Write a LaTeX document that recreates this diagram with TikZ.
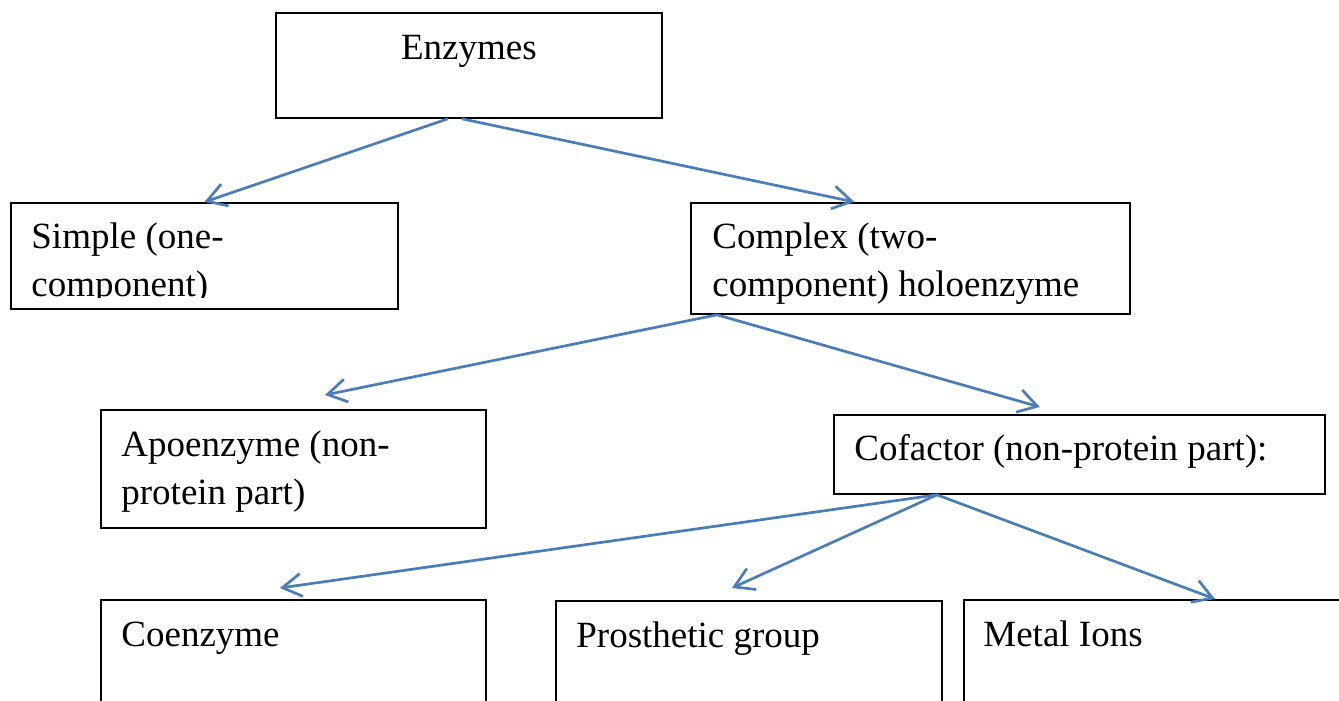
\documentclass[tikz,border=0pt]{standalone}
\usepackage{fontspec}
\setmainfont{Liberation Serif}
\usetikzlibrary{arrows.meta}
\definecolor{linkblue}{RGB}{74,126,187}

\begin{document}
\begin{tikzpicture}[x=0.5pt,y=-0.5pt]
\tikzstyle{box}=[draw=black,line width=0.9pt,rectangle,anchor=north west,inner sep=0pt]
\tikzstyle{txt}=[inner sep=0pt,anchor=base west,font=\fontsize{18.5pt}{24pt}\selectfont]
\tikzstyle{link}=[draw=linkblue,line width=1.35pt,-{Straight Barb[length=9.5pt,width=11.5pt]}]
\path [use as bounding box,clip] (0,0) rectangle (1339,701);

\node [box,minimum width=193pt,minimum height=52.5pt] at (275,12) (enz) {};
\node [box,minimum width=193.5pt,minimum height=53pt] at (10,202) (simple) {};
\node [box,minimum width=219.5pt,minimum height=55.5pt] at (690,202) (complex) {};
\node [box,minimum width=192.5pt,minimum height=59pt] at (100,409) (apo) {};
\node [box,minimum width=245.5pt,minimum height=39.5pt] at (833,414) (cof) {};
\node [box,minimum width=192.5pt,minimum height=65pt] at (100,599) (coe) {};
\node [box,minimum width=193pt,minimum height=65pt] at (555,600) (pros) {};
\node [box,minimum width=200pt,minimum height=65pt] at (963,599) (metal) {};

\node [txt,anchor=base] at ([shift={(0,48)}]enz.north) (enz-txt) {Enzymes};
\begin{scope}
\clip (simple.north west) rectangle ([yshift=6pt]simple.south east);
\node [txt] at ([shift={(21,47)}]simple.north west) (simple-txt) {\parbox[t]{190pt}{\raggedright Simple (one-\\component)}};
\end{scope}
\node [txt] at ([shift={(22,47)}]complex.north west) (complex-txt) {\parbox[t]{200pt}{\raggedright Complex (two-\\component) holoenzyme}};
\node [txt] at ([shift={(21,47)}]apo.north west) (apo-txt) {\parbox[t]{190pt}{\raggedright Apoenzyme (non-\\protein part)}};
\node [txt] at ([shift={(21,46)}]cof.north west) (cof-txt) {Cofactor (non-protein part):};
\node [txt] at ([shift={(21,47)}]coe.north west) (coe-txt) {Coenzyme};
\node [txt] at ([shift={(21,47)}]pros.north west) (pros-txt) {Prosthetic group};
\node [txt] at ([shift={(20,47)}]metal.north west) (metal-txt) {Metal Ions};

\draw [link] ([xshift=-10.5pt]enz.south) -- (simple.north);
\draw [link] ([xshift=-3.5pt]enz.south) -- ([xshift=-28pt]complex.north);
\draw [link] ([xshift=13.5pt]complex.south west) -- ([xshift=15.75pt,yshift=7pt]apo.north);
\draw [link] ([xshift=13.5pt]complex.south west) -- ([xshift=-19.75pt,yshift=3.5pt]cof.north);
\draw [link] ([xshift=52pt]cof.south west) -- ([xshift=-6.75pt,yshift=5.5pt]coe.north);
\draw [link] ([xshift=52pt]cof.south west) -- ([xshift=-8.5pt,yshift=6pt]pros.north);
\draw [link] ([xshift=52pt]cof.south west) -- ([xshift=126pt]metal.north west);
\end{tikzpicture}
\end{document}
